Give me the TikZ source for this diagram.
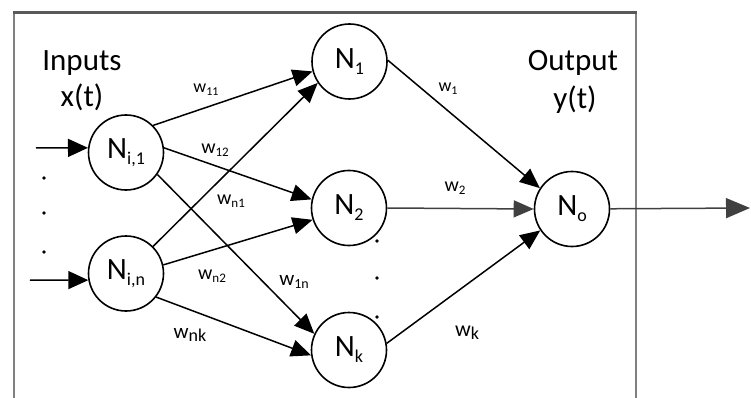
\documentclass[tikz,border=0pt]{standalone}
\usepackage{fontspec}
\setmainfont{Carlito}
\usetikzlibrary{arrows.meta}
\newcommand{\bigsz}{\fontsize{31}{36}\selectfont}
\newcommand{\Nlab}[1]{N\raisebox{-6pt}{\fontsize{18}{18}\selectfont #1}}
\newcommand{\wlab}[3]{{\fontsize{#1}{#1}\selectfont w\raisebox{-3pt}{\fontsize{#2}{#2}\selectfont #3}}}
\begin{document}
\begin{tikzpicture}[x=1pt,y=-1pt,
  neuron/.style={circle,draw,line width=1.6pt,minimum size=75pt,inner sep=0pt,font=\bigsz},
  conn/.style={line width=1.5pt,-{Triangle[length=20pt,width=17pt]}},
  inarrow/.style={line width=1.5pt,-{Triangle[length=20pt,width=18pt]}},
  outarrow/.style={line width=1.5pt,draw=black!75,-{Triangle[length=24pt,width=20pt]}},
  framel/.style={line width=1.5pt,draw=black!50},
  framet/.style={line width=3pt,draw=black!65},
  title/.style={font=\bigsz,inner sep=0pt},
  wl/.style={inner sep=0pt},
  dotn/.style={circle,fill=black,inner sep=0pt,minimum size=3.8pt}]
\useasboundingbox (0,0) rectangle (751,398);
% frame
\coordinate (fbl) at (14,398);
\coordinate (ftl) at (14,13);
\coordinate (ftr) at (636,13);
\coordinate (fbr) at (636,398);
\draw[framel] (fbl) -- (ftl);
\draw[framel] (ftr) -- (fbr);
\draw[framet] ([xshift=-0.75pt]ftl) -- ([xshift=0.75pt]ftr);
% titles
\node[title] (inputs) at (82,63) {Inputs};
\node[title] (xt) at (82,97) {x(t)};
\node[title] (output) at (573,63) {Output};
\node[title] (yt) at (575,100) {y(t)};
% neurons
\node[neuron] (ni1) at (126,152.5) {\Nlab{i,1}};
\node[neuron] (nin) at (126,273.5) {\Nlab{i,n}};
\node[neuron] (n1) at (349.5,61.5) {\Nlab{1}};
\node[neuron] (n2) at (349,208) {\Nlab{2}};
\node[neuron] (nk) at (349,350) {\Nlab{k}};
\node[neuron] (no) at (572,209) {\Nlab{o}};
% inputs and output
\coordinate (in1) at (36,148);
\coordinate (inn) at (30,280);
\coordinate (out) at (750,208);
\draw[inarrow] (in1) -- (ni1.173);
\draw[inarrow] (inn) -- (nin.190);
\draw[outarrow] (no) -- (out);
% connections
\draw[conn] (ni1.45) -- (n1.195);
\draw[conn] (ni1.7) -- (n2.167);
\draw[conn] (ni1.-35) -- (nk.155);
\draw[conn] (nin.45) -- (n1.214);
\draw[conn] (nin.13) -- (n2.198);
\draw[conn] (nin.-38) -- (nk.188);
\draw[conn] (n1.2) -- (no.147);
\draw[conn,draw=black!75] (n2.east) -- (no.west);
\draw[conn] (nk.10) -- (no.214);
% weights
\node[wl] (w11) at (206,90) {\wlab{18}{12}{11}};
\node[wl] (w12) at (215,150) {\wlab{20}{13}{12}};
\node[wl] (wn1) at (231,201) {\wlab{20}{13}{n1}};
\node[wl] (wn2) at (212,276) {\wlab{20}{13}{n2}};
\node[wl] (w1n) at (294,282) {\wlab{21}{14}{1n}};
\node[wl] (wnk) at (190,335) {\wlab{21}{18}{nk}};
\node[wl] (w1) at (448,89) {\wlab{18}{12}{1}};
\node[wl] (w2) at (455,188) {\wlab{20}{13}{2}};
\node[wl] (wk) at (467,333) {\wlab{22}{18}{k}};
% dots
\node[dotn] (dl1) at (44,178) {};
\node[dotn] (dl2) at (44,213) {};
\node[dotn] (dl3) at (44,252) {};
\node[dotn] (dm1) at (377,241) {};
\node[dotn] (dm2) at (377,278) {};
\node[dotn] (dm3) at (377,317) {};
\end{tikzpicture}
\end{document}
